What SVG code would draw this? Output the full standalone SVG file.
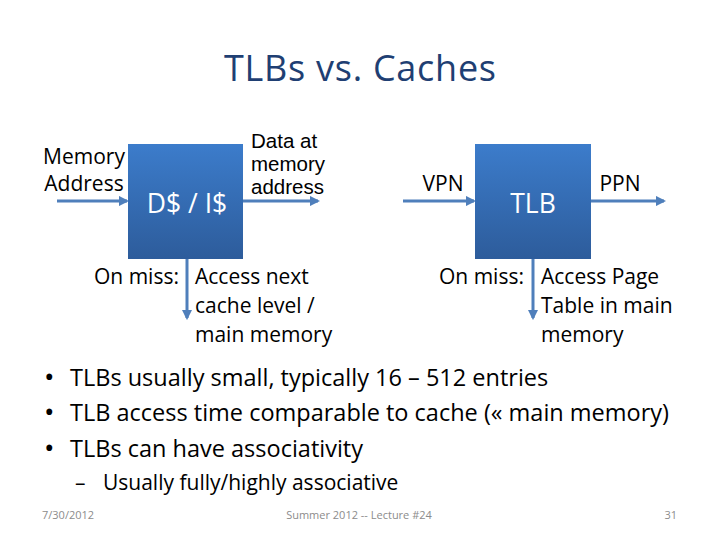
<svg xmlns="http://www.w3.org/2000/svg" width="720" height="540" viewBox="0 0 720 540">
<style>
text{font-family:"Open Sans","Liberation Sans",sans-serif;fill:#000}
.lbl{font-size:21px}
.dat{font-size:20.5px;font-family:"Liberation Sans",Arial,sans-serif}
.box{font-size:26.5px;fill:#fff}
.bul{font-size:23.5px}
.foot{font-size:11px;fill:#8c8c8c}
.arr{stroke:#4f7fbb;stroke-width:3;fill:none;marker-end:url(#ah)}
</style>
<defs>
<linearGradient id="g" x1="0" y1="0" x2="0" y2="1">
<stop offset="0" stop-color="#3c7ccb"/>
<stop offset="1" stop-color="#2d5c9b"/>
</linearGradient>
<marker id="ah" viewBox="0 0 10 10" refX="8" refY="5" markerWidth="3.5" markerHeight="3.5" orient="auto" markerUnits="strokeWidth">
<path d="M0,0 L10,5 L0,10 z" fill="#4f7fbb"/>
</marker>
</defs>
<rect width="720" height="540" fill="#fff"/>
<text x="360" y="81" text-anchor="middle" style="font-size:36px;fill:#1f3f73" textLength="272">TLBs vs. Caches</text>
<g id="connectors">
<line class="arr" x1="57" y1="201" x2="127" y2="201"/>
<line class="arr" x1="243" y1="201" x2="318" y2="201"/>
<line class="arr" x1="187" y1="259" x2="187" y2="318"/>
<line class="arr" x1="403" y1="201" x2="474" y2="201"/>
<line class="arr" x1="591" y1="201" x2="664" y2="201"/>
<line class="arr" x1="533" y1="259" x2="533" y2="318"/>
</g>
<g id="cache">
<rect x="128" y="144" width="115" height="115" fill="url(#g)"/>
<text class="box" x="187" y="213" text-anchor="middle">D$ / I$</text>
</g>
<g id="tlb">
<rect x="475" y="144" width="116" height="115" fill="url(#g)"/>
<text class="box" x="533" y="213" text-anchor="middle">TLB</text>
</g>
<g id="labels">
<text class="lbl" x="84" y="164" text-anchor="middle">Memory</text>
<text class="lbl" x="84" y="191" text-anchor="middle">Address</text>
<text class="dat" x="251" y="148">Data at</text>
<text class="dat" x="251" y="171">memory</text>
<text class="dat" x="251" y="194">address</text>
<text class="lbl" x="443" y="191" text-anchor="middle">VPN</text>
<text class="lbl" x="620" y="191" text-anchor="middle">PPN</text>
<text class="lbl" x="94" y="284">On miss:</text>
<text class="lbl" x="195" y="284">Access next</text>
<text class="lbl" x="195" y="313">cache level /</text>
<text class="lbl" x="195" y="342">main memory</text>
<text class="lbl" x="439" y="284">On miss:</text>
<text class="lbl" x="541" y="284">Access Page</text>
<text class="lbl" x="541" y="313">Table in main</text>
<text class="lbl" x="541" y="342">memory</text>
</g>
<g id="bullets">
<text class="bul" x="44" y="387" style="font-size:28px">•</text>
<text class="bul" x="70" y="386">TLBs usually small, typically 16 – 512 entries</text>
<text class="bul" x="44" y="422" style="font-size:28px">•</text>
<text class="bul" x="70" y="421">TLB access time comparable to cache (« main memory)</text>
<text class="bul" x="44" y="458" style="font-size:28px">•</text>
<text class="bul" x="70" y="457">TLBs can have associativity</text>
<text x="75" y="490" style="font-size:21px">–</text>
<text x="103" y="490" style="font-size:21px">Usually fully/highly associative</text>
</g>
<g id="footer">
<text class="foot" x="42" y="519">7/30/2012</text>
<text class="foot" x="359" y="519" text-anchor="middle">Summer 2012 -- Lecture #24</text>
<text class="foot" x="677" y="519" text-anchor="end">31</text>
</g>
</svg>
